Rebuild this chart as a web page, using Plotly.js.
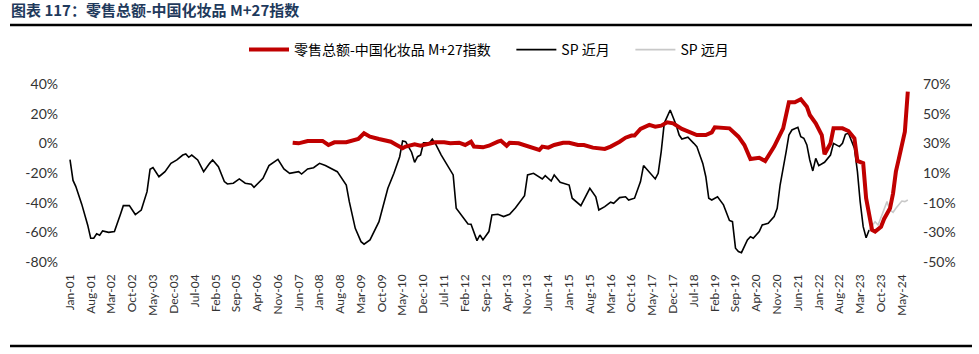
<!DOCTYPE html>
<html>
<head>
<meta charset="utf-8">
<script src="https://cdn.plot.ly/plotly-3.0.1.min.js"></script>
<style>
html,body{margin:0;padding:0;background:#fff;}
#chart{width:979px;height:354px;}
</style>
</head>
<body>
<div id="chart"></div>
<script>
// ---- data ----
const titleText = '图表 117：零售总额-中国化妆品 M+27指数';
const seriesNames = ['零售总额-中国化妆品 M+27指数', 'SP 近月', 'SP 远月'];

const spNearDates = ['2001-01','2001-02','2001-03','2001-05','2001-07','2001-08','2001-09','2001-10','2001-11','2001-12',
'2002-02','2002-04','2002-06','2002-07','2002-09','2002-11','2003-01','2003-03','2003-04','2003-05','2003-07','2003-09','2003-11',
'2004-01','2004-03','2004-04','2004-05','2004-06','2004-08','2004-10','2004-12','2005-01','2005-03','2005-05','2005-06','2005-08',
'2005-10','2005-12','2006-02','2006-03','2006-06','2006-08','2006-11','2007-01','2007-03','2007-06','2007-07','2007-09','2007-11',
'2008-01','2008-03','2008-07','2008-10','2008-11','2009-01','2009-03','2009-04','2009-06','2009-09','2009-12','2010-02','2010-04',
'2010-05','2010-06','2010-08','2010-09','2010-10','2010-11','2010-12','2011-02','2011-03','2011-04','2011-06','2011-08','2011-10',
'2011-11','2012-01','2012-03','2012-04','2012-06','2012-07','2012-08','2012-10','2012-11','2013-01','2013-03','2013-05','2013-07',
'2013-10','2013-11','2014-01','2014-04','2014-05','2014-07','2014-08','2014-10','2015-01','2015-02','2015-05','2015-08','2015-10',
'2015-11','2016-01','2016-03','2016-04','2016-06','2016-08','2016-09','2016-11','2017-01','2017-02','2017-04','2017-06','2017-07',
'2017-08','2017-09','2017-11','2018-01','2018-02','2018-03','2018-05','2018-07','2018-08','2018-10','2018-11','2018-12','2019-01',
'2019-03','2019-05','2019-07','2019-08','2019-09','2019-10','2019-11','2020-01','2020-02','2020-03','2020-05','2020-06','2020-08',
'2020-10','2020-11','2020-12','2021-02','2021-03','2021-04','2021-06','2021-07','2021-08','2021-09','2021-10','2021-11','2021-12',
'2022-01','2022-03','2022-05','2022-06','2022-08','2022-09','2022-10','2022-11','2023-01','2023-02','2023-03','2023-04','2023-05','2023-06'];
const spNearValues = [-11,-25,-29,-41,-55,-64,-64,-61,-62,-59,
-60,-59.5,-48,-42,-42,-48,-45,-32.6,-17.5,-16.4,-22.5,-19.1,-13.5,
-11.2,-7.9,-7.2,-9.4,-7.9,-11.2,-19.1,-13.5,-11.2,-15.7,-25.8,-27.4,-26.9,
-24,-26.9,-27.6,-29.6,-23.6,-15,-10.8,-17.3,-20.2,-19.1,-20.7,-17.3,-16.4,
-13.5,-15,-19.1,-28.1,-39.3,-57.3,-66.3,-68,-65.1,-52.8,-30.3,-20.2,-9,
1.6,1.1,-6,-12.8,-9,-7.9,0.4,0.4,2.9,0,-7.9,-14.6,-21.3,
-43.8,-49.4,-54.4,-54.6,-65.6,-61.8,-65.1,-59.5,-48.3,-47.8,-49.4,-47.8,-43.4,
-35.3,-21.3,-20.2,-24,-21.8,-25.4,-21.3,-26.3,-28.1,-37,-42,-30.3,-36,
-44.9,-42.7,-39.7,-40.4,-36.6,-36,-38.2,-37,-25.8,-15,-19.1,-24,-20.2,
-5.6,13.5,22.5,12.4,5.6,2.9,4.1,0,-2.2,-13.5,-22.5,-37,-38.2,
-36,-41.5,-52,-52.8,-70.7,-73,-73.7,-65.1,-62.9,-64,-59.5,-55,-53.9,
-49.4,-43.8,-28.1,-5.6,5.6,9,10.8,4.5,3.4,-1.1,-11.2,-18.6,-10.1,
-15,-12.8,-7.9,0,-2.2,0,6.1,6.8,-3.3,-19.1,-39.3,-56.2,-63.6,-58.4];

const spFarDates = ['2023-06','2023-08','2023-09','2023-11','2023-12','2024-01','2024-02','2024-03','2024-05','2024-06','2024-07'];
const spFarValues = [-58.4,-52.8,-55,-44.9,-39.3,-44.9,-46.5,-43.8,-38.9,-39.3,-38.2];

const retailDates = ['2007-04','2007-06','2007-09','2008-02','2008-04','2008-06','2008-10','2009-02','2009-04','2009-06','2009-09',
'2010-01','2010-03','2010-05','2010-06','2010-09','2010-11','2011-02','2011-04','2011-07','2011-09','2011-12','2012-02','2012-04',
'2012-05','2012-08','2012-10','2013-01','2013-02','2013-04','2013-05','2013-08','2013-11','2014-01','2014-03','2014-04','2014-06',
'2014-08','2014-11','2015-01','2015-04','2015-06','2015-09','2016-01','2016-03','2016-06','2016-08','2016-10','2016-11','2017-01',
'2017-04','2017-06','2017-08','2017-10','2017-12','2018-03','2018-06','2018-08','2018-11','2019-01','2019-02','2019-04','2019-07',
'2019-10','2019-12','2020-02','2020-05','2020-07','2020-10','2021-01','2021-02','2021-03','2021-05','2021-07','2021-09','2021-10',
'2021-12','2022-02','2022-03','2022-05','2022-06','2022-09','2022-11','2023-01','2023-02','2023-04','2023-05','2023-07','2023-08',
'2023-10','2023-11','2024-01','2024-02','2024-03','2024-04','2024-06','2024-07'];
const retailValues = [30.4,30,31.6,31.6,28.9,30.7,30.7,32.9,36.8,34.5,32.9,
31.1,28.9,26.7,27.8,29.4,28.4,30,30.7,30.7,30,30.4,28.9,31.1,
27.8,27.3,28.4,31.1,31.8,28.4,30.4,30,27.8,26.2,25.5,27.8,27.1,
28.9,30.4,30.4,28.9,28.9,27.1,26.2,27.8,31.1,33.8,35.2,35.2,39.7,
42.4,41.2,41.9,44.2,43.5,39.7,37.4,35.6,35.6,37.4,40.8,40.5,40.1,
34.5,28.9,19.4,20.3,18.1,27.8,40.1,49.1,57.7,57.7,59.7,54.7,49.1,
43.5,35.6,22.6,30,40.1,40.1,38.3,33.4,18.1,16.6,-7,-28.4,-29.5,
-26.2,-21,-13.8,-3.7,10.9,19.9,37.9,64.8];

const xTickText = ['Jan-01','Aug-01','Mar-02','Oct-02','May-03','Dec-03','Jul-04','Feb-05','Sep-05','Apr-06','Nov-06',
'Jun-07','Jan-08','Aug-08','Mar-09','Oct-09','May-10','Dec-10','Jul-11','Feb-12','Sep-12','Apr-13','Nov-13','Jun-14',
'Jan-15','Aug-15','Mar-16','Oct-16','May-17','Dec-17','Jul-18','Feb-19','Sep-19','Apr-20','Nov-20','Jun-21','Jan-22',
'Aug-22','Mar-23','Oct-23','May-24'];
const leftTickVals = [-80,-60,-40,-20,0,20,40];
const leftTickText = ['-80%','-60%','-40%','-20%','0%','20%','40%'];
const rightTickVals = [-50,-30,-10,10,30,50,70];
const rightTickText = ['-50%','-30%','-10%','10%','30%','50%','70%'];

// ---- build ----
const monthIdx = {Jan:1,Feb:2,Mar:3,Apr:4,May:5,Jun:6,Jul:7,Aug:8,Sep:9,Oct:10,Nov:11,Dec:12};
const xTickVals = xTickText.map(t => {
  const [m, y] = t.split('-');
  return '20' + y + '-' + String(monthIdx[m]).padStart(2,'0') + '-01';
});

const tickFont = {family: 'Lato, "DejaVu Sans", sans-serif', size: 14, color: '#333333'};
const pad = '\u00a0\u00a0\u00a0\u00a0\u00a0';

const traces = [
  {x: retailDates, y: retailValues, name: seriesNames[0] + pad, type: 'scatter', mode: 'lines', yaxis: 'y2',
   line: {color: '#c00000', width: 4}},
  {x: spNearDates, y: spNearValues, name: seriesNames[1] + pad, type: 'scatter', mode: 'lines', yaxis: 'y',
   line: {color: '#000000', width: 1.6}},
  {x: spFarDates, y: spFarValues, name: seriesNames[2], type: 'scatter', mode: 'lines', yaxis: 'y',
   line: {color: '#c8c8c8', width: 1.6}}
];

const L = 62, R = 916, T = 84, B = 262;
const pw = R - L, ph = B - T;
const px = v => (v - L) / pw;
const py = v => (B - v) / ph;

const layout = {
  width: 979, height: 354,
  margin: {l: L, r: 979 - R, t: T, b: 354 - B, pad: 0},
  paper_bgcolor: '#ffffff', plot_bgcolor: '#ffffff',
  title: {
    text: '<b>' + titleText + '</b>',
    x: 11/979, xref: 'container', xanchor: 'left',
    y: 1 - 11/354, yref: 'container', yanchor: 'middle',
    font: {family: '"Noto Sans CJK SC", sans-serif', size: 15, color: '#1f3a5c'}
  },
  showlegend: true,
  legend: {
    orientation: 'h', x: 0.5, xanchor: 'center', y: py(50), yanchor: 'middle',
    font: {family: '"Noto Sans CJK SC", sans-serif', size: 14, color: '#000000'},
    bgcolor: 'rgba(0,0,0,0)', itemwidth: 40, traceorder: 'normal'
  },
  xaxis: {
    type: 'date', range: ['2000-10-11', '2024-09-23'],
    tickmode: 'array', tickvals: xTickVals, ticktext: xTickText,
    tickangle: -90, ticks: '', showgrid: false, zeroline: false, showline: false,
    tickfont: {family: 'Lato, "DejaVu Sans", sans-serif', size: 12, color: '#333333'},
    ticklabelstandoff: 9
  },
  yaxis: {
    range: [-80, 40], tickmode: 'array', tickvals: leftTickVals, ticktext: leftTickText,
    showgrid: false, zeroline: false, showline: false, ticks: '', tickfont: tickFont,
    ticklabelstandoff: 3
  },
  yaxis2: {
    range: [-50, 70], overlaying: 'y', side: 'right', tickmode: 'array',
    tickvals: rightTickVals, ticktext: rightTickText,
    showgrid: false, zeroline: false, showline: false, ticks: '', tickfont: tickFont,
    ticklabelstandoff: 6
  },
  shapes: [
    {type: 'line', xref: 'paper', yref: 'paper', x0: px(10), x1: px(972), y0: py(25), y1: py(25),
     line: {color: '#000000', width: 2.5}},
    {type: 'line', xref: 'paper', yref: 'paper', x0: px(10), x1: px(972), y0: py(346), y1: py(346),
     line: {color: '#000000', width: 2.5}}
  ]
};

Plotly.newPlot('chart', traces, layout, {displayModeBar: false, staticPlot: true});
</script>
</body>
</html>
